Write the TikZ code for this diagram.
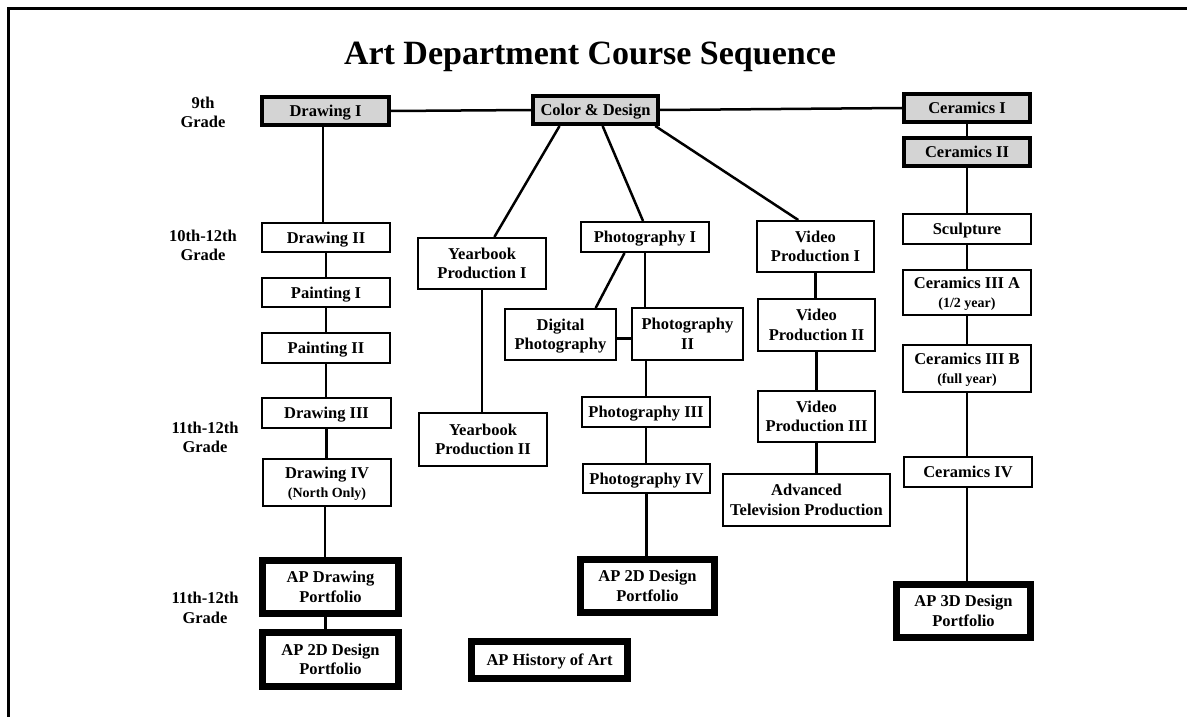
\documentclass[tikz,border=0pt]{standalone}
\usepackage{fontspec}
\setmainfont{Liberation Serif}
\usetikzlibrary{calc}
\begin{document}
\begin{tikzpicture}[x=1pt,y=-1pt,
  box/.style={draw, line width=2pt, fill=white, inner sep=0pt, align=center,
    text depth=0pt, font=\fontsize{16.5}{19.5}\selectfont\bfseries},
  graybox/.style={box, fill=black!17, line width=4pt},
  apbox/.style={box, line width=7pt},
  sz/.style n args={2}{minimum width=#1, minimum height=#2},
  conn/.style={line width=2.5pt},
  grade/.style={align=center, inner sep=0pt, text depth=0pt, font=\fontsize{16.5}{19.5}\selectfont\bfseries}]
\newcommand{\subln}[1]{{\fontsize{14}{17}\selectfont #1}}
\useasboundingbox (0,0) rectangle (1187,717);
\fill[white] (0,0) rectangle (1187,717);
\draw[line width=3pt] (8.5,717) -- (8.5,9) -- (1187,9);

\node[anchor=base, inner sep=0pt, font=\fontsize{34}{40}\selectfont\bfseries] (title) at (590,65) {Art Department Course Sequence};

% grade labels
\node[grade] (g9)  at (203,112.5) {9th\\Grade};
\node[grade] (g10) at (203,245.5) {10th-12th\\Grade};
\node[grade] (g11a) at (205,437.5) {11th-12th\\Grade};
\node[grade] (g11b) at (205,608) {11th-12th\\Grade};

% top row
\node[graybox, sz={127pt}{28pt}] (draw1) at (325.5,111) {Drawing I};
\node[graybox, sz={125pt}{28pt}] (color) at (595.5,110) {Color \& Design};
\node[graybox, sz={126pt}{28pt}] (cer1) at (967,108) {Ceramics I};
\node[graybox, sz={126pt}{28pt}] (cer2) at (967,152) {Ceramics II};

% drawing column
\node[box, sz={128pt}{29pt}] (draw2) at (326,237.5) {Drawing II};
\node[box, sz={128pt}{29pt}] (paint1) at (326,292.5) {Painting I};
\node[box, sz={128pt}{30pt}] (paint2) at (326,348) {Painting II};
\node[box, sz={129pt}{30pt}] (draw3) at (326.5,413) {Drawing III};
\node[box, sz={128pt}{47pt}] (draw4) at (327,482.5) {Drawing IV\\\subln{(North Only)}};
\node[apbox, sz={136pt}{53pt}] (apdraw) at (330.5,587) {AP Drawing\\Portfolio};
\node[apbox, sz={136pt}{54pt}] (ap2dl) at (330.5,659.5) {AP 2D Design\\Portfolio};
\node[apbox, sz={156pt}{37pt}] (aphist) at (549.5,660) {AP History of Art};

% yearbook column
\node[box, sz={128pt}{51pt}] (yb1) at (482,263.5) {Yearbook\\Production I};
\node[box, sz={128pt}{53pt}] (yb2) at (483,439.5) {Yearbook\\Production II};

% photography column
\node[box, sz={128pt}{30pt}] (photo1) at (645,237) {Photography I};
\node[box, sz={111pt}{51pt}] (digital) at (560.5,334.5) {Digital\\Photography};
\node[box, sz={111pt}{52pt}] (photo2) at (687.5,334) {Photography\\II};
\node[box, sz={128pt}{30pt}] (photo3) at (646,412) {Photography III};
\node[box, sz={127pt}{29pt}] (photo4) at (646.5,478.5) {Photography IV};
\node[apbox, sz={134pt}{53pt}] (ap2dm) at (647.5,586) {AP 2D Design\\Portfolio};

% video column
\node[box, sz={117pt}{51pt}] (vid1) at (815.5,246.5) {Video\\Production I};
\node[box, sz={117pt}{52pt}] (vid2) at (816.5,325) {Video\\Production II};
\node[box, sz={117pt}{51pt}] (vid3) at (816.5,416.5) {Video\\Production III};
\node[box, sz={167pt}{52pt}] (advtv) at (806.5,500) {Advanced\\Television Production};

% ceramics column
\node[box, sz={128pt}{30pt}] (sculpt) at (967,229) {Sculpture};
\node[box, sz={128pt}{45pt}] (cer3a) at (967,292.5) {Ceramics III A\\\subln{(1/2 year)}};
\node[box, sz={128pt}{47pt}] (cer3b) at (967,368.5) {Ceramics III B\\\subln{(full year)}};
\node[box, sz={128pt}{30pt}] (cer4) at (968,472) {Ceramics IV};
\node[apbox, sz={134pt}{53pt}] (ap3d) at (963.5,611) {AP 3D Design\\Portfolio};

% connectors
\begin{scope}[conn]
\draw (draw1.east) -- (color.west);
\draw (color.east) -- (cer1.west);
\draw (cer1.south) -- (cer2.north);
\draw (cer2.south) -- (sculpt.north);
\draw (sculpt.south) -- (cer3a.north);
\draw (cer3a.south) -- (cer3b.north);
\draw (cer3b.south) -- (cer3b.south |- cer4.north);
\draw (cer3b.south |- cer4.south) -- (cer3b.south |- ap3d.north);

\draw ([xshift=-2.5pt]draw1.south) -- ([xshift=-2.5pt]draw1.south |- draw2.north);
\draw (draw2.south) -- (draw2.south |- paint1.north);
\draw (paint1.south) -- (paint1.south |- paint2.north);
\draw (paint2.south) -- (paint2.south |- draw3.north);
\draw (draw3.south) -- (draw3.south |- draw4.north);
\draw ([xshift=-2pt]draw4.south) -- ([xshift=-2pt]draw4.south |- apdraw.north);
\draw ([xshift=-5pt]apdraw.south) -- ([xshift=-5pt]apdraw.south |- ap2dl.north);

\draw (color.204) -- (yb1.65);
\draw (color.294) -- (photo1.97);
\draw (color.345) -- (vid1.123);

\draw (yb1.south) -- (yb1.south |- yb2.north);

\draw (photo1.218) -- (digital.37);
\draw (photo1.south) -- (photo1.south |- photo2.north);
\draw ([yshift=-4pt]digital.east) -- ([yshift=-4pt]digital.east -| photo2.west);
\draw (photo3.north |- photo2.south) -- (photo3.north);
\draw (photo3.south) -- (photo3.south |- photo4.north);
\draw (photo4.south) -- (photo4.south |- ap2dm.north);

\draw (vid1.south) -- (vid1.south |- vid2.north);
\draw (vid2.south) -- (vid2.south |- vid3.north);
\draw (vid3.south) -- (vid3.south |- advtv.north);
\end{scope}
\end{tikzpicture}
\end{document}
